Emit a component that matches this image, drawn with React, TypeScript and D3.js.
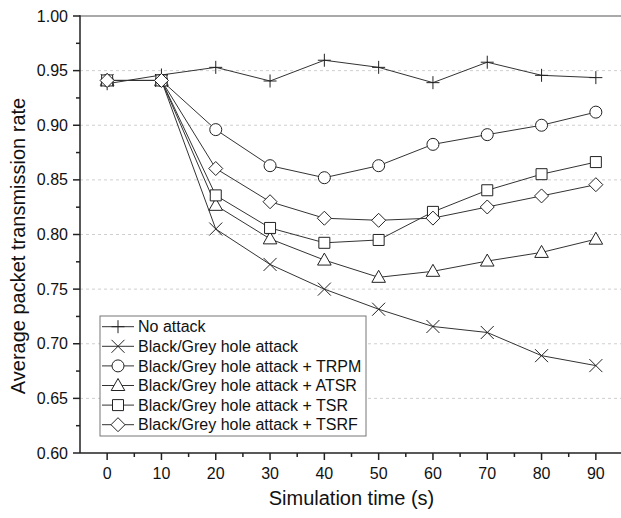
import React from "react";
import * as d3 from "d3";

const times = [0, 10, 20, 30, 40, 50, 60, 70, 80, 90];
const noAttack = [0.938, 0.946, 0.953, 0.9405, 0.9595, 0.953, 0.939, 0.9577, 0.9457, 0.9436];
const blackGrey = [0.941, 0.941, 0.805, 0.7726, 0.75, 0.7316, 0.7158, 0.7103, 0.6891, 0.68];
const trpm = [0.941, 0.941, 0.896, 0.863, 0.852, 0.863, 0.8825, 0.8914, 0.9, 0.912];
const atsr = [0.941, 0.941, 0.8267, 0.796, 0.7766, 0.7608, 0.7663, 0.7757, 0.7836, 0.7957];
const tsr = [0.941, 0.941, 0.8358, 0.806, 0.7924, 0.795, 0.8207, 0.8405, 0.8552, 0.8663];
const tsrf = [0.941, 0.941, 0.8604, 0.83, 0.8149, 0.813, 0.815, 0.8252, 0.8353, 0.8456];

const seriesNames = [
  "No attack",
  "Black/Grey hole attack",
  "Black/Grey hole attack + TRPM",
  "Black/Grey hole attack + ATSR",
  "Black/Grey hole attack + TSR",
  "Black/Grey hole attack + TSRF",
];
const seriesValues = [noAttack, blackGrey, trpm, atsr, tsr, tsrf];
const seriesMarkers = ["plus", "cross", "circle", "triangle", "square", "diamond"];

const xTicks = [0, 10, 20, 30, 40, 50, 60, 70, 80, 90];
const xMinorTicks = [5, 15, 25, 35, 45, 55, 65, 75, 85];
const yTicks = [0.6, 0.65, 0.7, 0.75, 0.8, 0.85, 0.9, 0.95, 1.0];
const yMinorTicks = [0.625, 0.675, 0.725, 0.775, 0.825, 0.875, 0.925, 0.975];

const FONT = "'Liberation Sans', Arial, Helvetica, sans-serif";

function markerPath(kind: string): string {
  const p = d3.path();
  if (kind === "circle") {
    p.moveTo(6, 0);
    p.arc(0, 0, 6, 0, Math.PI * 2);
  } else if (kind === "square") {
    p.rect(-5.5, -5.5, 11, 11);
  } else if (kind === "triangle") {
    p.moveTo(0, -7);
    p.lineTo(6.8, 5);
    p.lineTo(-6.8, 5);
    p.closePath();
  } else if (kind === "diamond") {
    p.moveTo(0, -7);
    p.lineTo(7, 0);
    p.lineTo(0, 7);
    p.lineTo(-7, 0);
    p.closePath();
  } else if (kind === "cross") {
    p.moveTo(-6.5, -6.5);
    p.lineTo(6.5, 6.5);
    p.moveTo(-6.5, 6.5);
    p.lineTo(6.5, -6.5);
  } else {
    p.moveTo(-6.5, 0);
    p.lineTo(6.5, 0);
    p.moveTo(0, -6.5);
    p.lineTo(0, 6.5);
  }
  return p.toString();
}

export default function App() {
  const W = 621;
  const H = 518;
  const left = 80;
  const right = 623;
  const top = 16;
  const bottom = 453;

  const x = d3.scaleLinear().domain([-5, 95]).range([left, right]);
  const y = d3.scaleLinear().domain([0.6, 1.0]).range([bottom, top]);
  const line = d3
    .line<number>()
    .x((_, i) => x(times[i]))
    .y((d) => y(d));

  const lineColor = "#333";
  const legX = 100;
  const legY = 316;
  const legW = 266;
  const legH = 120;
  const rowH = 19.6;

  return (
    <svg
      width={W}
      height={H}
      style={{ position: "absolute", left: 0, top: 0, background: "#fff" }}
      fontFamily={FONT}
    >
      <rect x={0} y={0} width={W} height={H} fill="#fff" />
      {yTicks
        .filter((t) => t > 0.6 && t < 1.0)
        .map((t) => (
          <line
            key={"g" + t}
            x1={left}
            x2={right}
            y1={y(t)}
            y2={y(t)}
            stroke="#cfcfcf"
            strokeWidth={1}
            strokeDasharray="3,3"
          />
        ))}
      <line x1={left} x2={right} y1={y(1.0)} y2={y(1.0)} stroke="#8c8c8c" strokeWidth={1.5} />

      {seriesValues.map((vals, si) => (
        <path key={"l" + si} d={line(vals) || ""} fill="none" stroke={lineColor} strokeWidth={1} />
      ))}
      {seriesValues.map((vals, si) => (
        <g key={"m" + si}>
          {vals.map((v, i) => (
            <path
              key={i}
              d={markerPath(seriesMarkers[si])}
              transform={`translate(${x(times[i])},${y(v)})`}
              fill="#fff"
              stroke="#222"
              strokeWidth={1}
            />
          ))}
        </g>
      ))}

      <line x1={left} x2={left} y1={top - 0.75} y2={bottom} stroke="#222" strokeWidth={1.5} />
      <line x1={left} x2={right} y1={bottom} y2={bottom} stroke="#222" strokeWidth={1.5} />
      {yTicks.map((t) => (
        <g key={"yt" + t}>
          <line x1={left - 7} x2={left} y1={y(t)} y2={y(t)} stroke="#222" strokeWidth={1.5} />
          <text x={68} y={y(t)} dy="0.35em" textAnchor="end" fontSize={16} fill="#111">
            {d3.format(".2f")(t)}
          </text>
        </g>
      ))}
      {yMinorTicks.map((t) => (
        <line key={"ym" + t} x1={left - 4} x2={left} y1={y(t)} y2={y(t)} stroke="#222" strokeWidth={1.5} />
      ))}
      {xTicks.map((t) => (
        <g key={"xt" + t}>
          <line x1={x(t)} x2={x(t)} y1={bottom} y2={bottom + 7} stroke="#222" strokeWidth={1.5} />
          <text x={x(t)} y={479} textAnchor="middle" fontSize={16} fill="#111">
            {t}
          </text>
        </g>
      ))}
      {xMinorTicks.map((t) => (
        <line key={"xm" + t} x1={x(t)} x2={x(t)} y1={bottom} y2={bottom + 4} stroke="#222" strokeWidth={1.5} />
      ))}

      <text x={(left + right) / 2} y={505} textAnchor="middle" fontSize={20} fill="#111">
        Simulation time (s)
      </text>
      <text transform={`translate(25,246) rotate(-90)`} textAnchor="middle" fontSize={20} fill="#111">
        Average packet transmission rate
      </text>

      <rect x={legX} y={legY} width={legW} height={legH} fill="#fff" stroke="#777" strokeWidth={1} />
      {seriesNames.map((name, i) => {
        const cy = legY + 10.7 + i * rowH;
        return (
          <g key={"lg" + i}>
            <line x1={legX + 2} x2={legX + 34} y1={cy} y2={cy} stroke={lineColor} strokeWidth={1} />
            <path
              d={markerPath(seriesMarkers[i])}
              transform={`translate(${legX + 18},${cy})`}
              fill="#fff"
              stroke="#222"
              strokeWidth={1}
            />
            <text x={legX + 38} y={cy} dy="0.35em" fontSize={16} fill="#111">
              {name}
            </text>
          </g>
        );
      })}
    </svg>
  );
}
